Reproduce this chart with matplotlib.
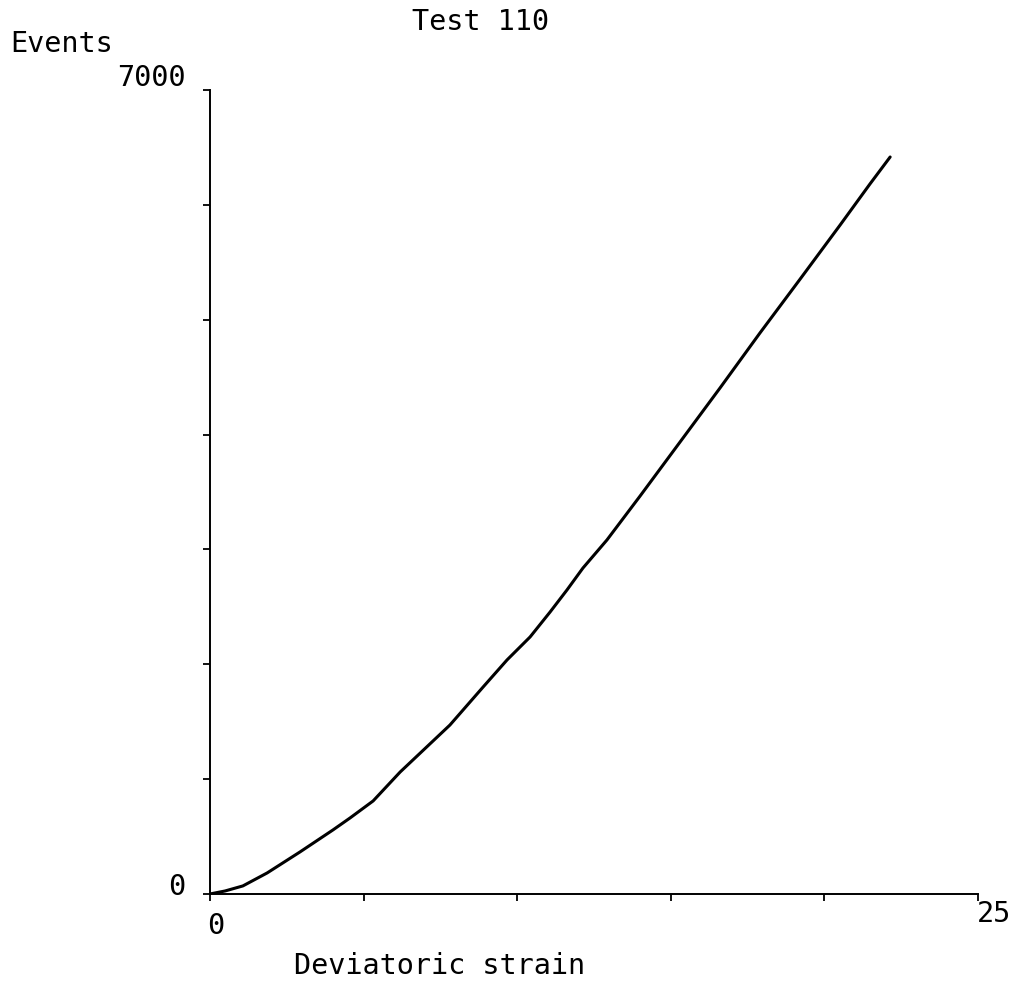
import matplotlib
matplotlib.use("Agg")
import matplotlib.pyplot as plt
from matplotlib.transforms import offset_copy

# Cumulative event count against deviatoric strain (%), Test 110
strain = [0.0, 0.49, 1.07, 1.86, 2.93, 4.00, 4.56, 5.31, 6.19, 7.81,
          8.89, 9.67, 10.42, 11.07, 11.62, 12.14, 12.92, 14.00, 15.30,
          16.60, 17.90, 19.21, 20.51, 21.48, 22.14]
events = [0, 26, 70, 183, 366, 557, 662, 810, 1062, 1471,
          1802, 2038, 2238, 2455, 2647, 2838, 3082, 3465, 3935,
          4405, 4884, 5354, 5824, 6181, 6417]

x_range = (0, 25)
y_range = (0, 7000)
x_ticks = [0, 5, 10, 15, 20, 25]
y_ticks = [0, 1000, 2000, 3000, 4000, 5000, 6000, 7000]

title = "Test 110"
x_label = "Deviatoric strain"
y_label = "Events"

plt.rcParams["font.family"] = ["DejaVu Sans Mono", "DejaVu Sans"]
FS = 20.5

fig = plt.figure(figsize=(10.16, 9.84), dpi=100)
ax = fig.add_axes([0.2067, 0.0915, 0.7559, 0.8170])

ax.plot(strain, events, color="black", lw=2.2,
        solid_joinstyle="round", solid_capstyle="round")

ax.set_xlim(*x_range)
ax.set_ylim(*y_range)
ax.set_xticks(x_ticks)
ax.set_yticks(y_ticks)
ax.set_xticklabels([])
ax.set_yticklabels([])
ax.tick_params(axis="both", direction="out", length=5, width=1.3, color="black")

for side in ("top", "right"):
    ax.spines[side].set_visible(False)
for side in ("left", "bottom"):
    ax.spines[side].set_linewidth(1.4)
    ax.spines[side].set_color("black")

# End-point labels in plotter style
ax.text(x_range[0], y_range[0],
        "0", transform=offset_copy(ax.transData, fig=fig, x=-33, y=7, units="dots"),
        ha="center", va="center", fontsize=FS)
ax.text(x_range[0], y_range[1],
        "7000", transform=offset_copy(ax.transData, fig=fig, x=-59, y=12, units="dots"),
        ha="center", va="center", fontsize=FS)
ax.text(x_range[0], y_range[0],
        "0", transform=offset_copy(ax.transData, fig=fig, x=6, y=-32, units="dots"),
        ha="center", va="center", fontsize=FS)
ax.text(x_range[1], y_range[0],
        "25", transform=offset_copy(ax.transData, fig=fig, x=16, y=-20, units="dots"),
        ha="center", va="center", fontsize=FS)

fig.text(10 / 1016, 1 - 44 / 984, y_label, ha="left", va="center", fontsize=FS)
fig.text(480 / 1016, 1 - 22 / 984, title, ha="center", va="center", fontsize=FS)
fig.text(440 / 1016, 1 - 966 / 984, x_label, ha="center", va="center", fontsize=FS)

fig.savefig("out.png", dpi=100, facecolor="white")
